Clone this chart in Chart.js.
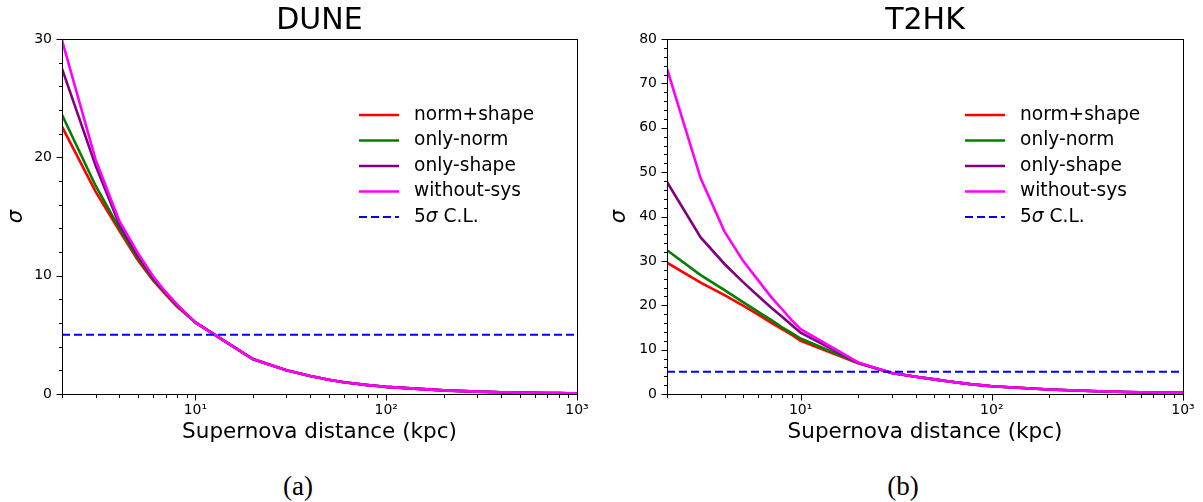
<!DOCTYPE html>
<html>
<head>
<meta charset="utf-8">
<script src="https://cdn.jsdelivr.net/npm/chart.js@4.4.1/dist/chart.umd.min.js"></script>
<style>
  html, body { margin: 0; padding: 0; background: #ffffff; }
  body { width: 1203px; height: 502px; position: relative; overflow: hidden; }
  .panel { position: absolute; top: 0; width: 600px; height: 460px; }
  .caption { position: absolute; top: 471px; font-family: "Liberation Serif", "DejaVu Serif", serif; font-size: 27px; color: #000; transform: translateX(-50%); }
</style>
</head>
<body>
<div class="panel" style="left:0px"><canvas id="dune" width="600" height="460"></canvas></div>
<div class="panel" style="left:603px"><canvas id="t2hk" width="600" height="460"></canvas></div>
<div class="caption" style="left:298px">(a)</div>
<div class="caption" style="left:903px">(b)</div>
<script>
// ---------------- data ----------------
const xDistance = [2, 3, 4, 5, 6, 7, 8, 9, 10, 20, 30, 40, 50, 60, 70, 80, 90, 100, 200, 300, 400, 500, 600, 700, 800, 900, 1000];

const duneNormShape  = [22.6, 17.1, 13.8, 11.3, 9.6, 8.4, 7.4, 6.7, 6.05, 2.95, 2.0, 1.52, 1.2, 1.0, 0.86, 0.75, 0.67, 0.6, 0.31, 0.2, 0.15, 0.12, 0.1, 0.086, 0.075, 0.067, 0.06];
const duneOnlyNorm   = [23.6, 17.6, 14.0, 11.5, 9.7, 8.5, 7.5, 6.7, 6.05, 2.95, 2.0, 1.52, 1.2, 1.0, 0.86, 0.75, 0.67, 0.6, 0.31, 0.2, 0.15, 0.12, 0.1, 0.086, 0.075, 0.067, 0.06];
const duneOnlyShape  = [27.5, 19.3, 14.3, 11.7, 9.8, 8.55, 7.55, 6.75, 6.05, 2.95, 2.0, 1.52, 1.2, 1.0, 0.86, 0.75, 0.67, 0.6, 0.31, 0.2, 0.15, 0.12, 0.1, 0.086, 0.075, 0.067, 0.06];
const duneWithoutSys = [29.9, 19.8, 14.6, 11.9, 9.95, 8.6, 7.6, 6.75, 6.05, 2.95, 2.0, 1.52, 1.2, 1.0, 0.86, 0.75, 0.67, 0.6, 0.31, 0.2, 0.15, 0.12, 0.1, 0.086, 0.075, 0.067, 0.06];

const t2hkNormShape  = [29.6, 25.1, 22.3, 19.9, 17.9, 16.1, 14.6, 13.3, 12.0, 6.9, 4.75, 3.9, 3.3, 2.8, 2.45, 2.15, 1.95, 1.75, 1.0, 0.72, 0.56, 0.46, 0.39, 0.34, 0.31, 0.28, 0.26];
const t2hkOnlyNorm   = [32.4, 26.8, 23.4, 20.7, 18.5, 16.7, 15.0, 13.7, 12.5, 7.0, 4.75, 3.9, 3.3, 2.8, 2.45, 2.15, 1.95, 1.75, 1.0, 0.72, 0.56, 0.46, 0.39, 0.34, 0.31, 0.28, 0.26];
const t2hkOnlyShape  = [47.8, 35.3, 29.3, 25.2, 22.1, 19.5, 17.4, 15.5, 13.8, 7.05, 4.75, 3.9, 3.3, 2.8, 2.45, 2.15, 1.95, 1.75, 1.0, 0.72, 0.56, 0.46, 0.39, 0.34, 0.31, 0.28, 0.26];
const t2hkWithoutSys = [73.3, 48.6, 36.6, 30.0, 25.6, 21.9, 19.1, 16.6, 14.6, 7.1, 4.75, 3.9, 3.3, 2.8, 2.45, 2.15, 1.95, 1.75, 1.0, 0.72, 0.56, 0.46, 0.39, 0.34, 0.31, 0.28, 0.26];

const clX = [2, 1000];
const clLevel = [5, 5];

const seriesLabels = ['norm+shape', 'only-norm', 'only-shape', 'without-sys', '5σ C.L.'];
const seriesColors = ['#ff0000', '#008000', '#800080', '#ff00ff', '#0000ff'];

const xMajorTicks = [10, 100, 1000];
const xTickLabels = ['10¹', '10²', '10³'];
const xMinorTicks = [2, 3, 4, 5, 6, 7, 8, 9, 20, 30, 40, 50, 60, 70, 80, 90, 200, 300, 400, 500, 600, 700, 800, 900];

const duneYMajor = [0, 10, 20, 30];
const duneYMinor = [2, 4, 6, 8, 12, 14, 16, 18, 22, 24, 26, 28];
const t2hkYMajor = [0, 10, 20, 30, 40, 50, 60, 70, 80];
const t2hkYMinor = [2, 4, 6, 8, 12, 14, 16, 18, 22, 24, 26, 28, 32, 34, 36, 38, 42, 44, 46, 48, 52, 54, 56, 58, 62, 64, 66, 68, 72, 74, 76, 78];

const FONT = "'DejaVu Sans', 'Liberation Sans', sans-serif";
Chart.defaults.font.family = FONT;
Chart.defaults.color = '#000';

// ---------------- plugins ----------------
const frameTicks = {
  id: 'frameTicks',
  afterDatasetsDraw(chart, args, opts) {
    const {ctx, chartArea: a} = chart;
    const xs = chart.scales.x, ys = chart.scales.y;
    ctx.save();
    ctx.strokeStyle = '#000';
    ctx.lineWidth = 1;
    ctx.strokeRect(Math.round(a.left) + 0.5, Math.round(a.top) + 0.5, Math.round(a.right - a.left), Math.round(a.bottom - a.top));
    const bottom = Math.round(a.bottom) + 0.5, left = Math.round(a.left) + 0.5;
    ctx.beginPath();
    opts.xMajor.forEach(v => { const p = Math.round(xs.getPixelForValue(v)) + 0.5; ctx.moveTo(p, bottom); ctx.lineTo(p, bottom + 6); });
    opts.xMinor.forEach(v => { const p = Math.round(xs.getPixelForValue(v)) + 0.5; ctx.moveTo(p, bottom); ctx.lineTo(p, bottom + 3.5); });
    opts.yMajor.forEach(v => { const p = Math.round(ys.getPixelForValue(v)) + 0.5; ctx.moveTo(left, p); ctx.lineTo(left - 6, p); });
    opts.yMinor.forEach(v => { const p = Math.round(ys.getPixelForValue(v)) + 0.5; ctx.moveTo(left, p); ctx.lineTo(left - 3.5, p); });
    ctx.stroke();
    ctx.restore();
  }
};

const insideLegend = {
  id: 'insideLegend',
  afterDraw(chart) {
    const {ctx, chartArea: a} = chart;
    const x0 = a.right - 218, lineLen = 40, textX = x0 + 55;
    const y0 = a.top + 76, step = 25.5;
    ctx.save();
    chart.data.datasets.forEach((ds, i) => {
      const y = y0 + i * step;
      ctx.strokeStyle = ds.borderColor;
      ctx.lineWidth = ds.borderWidth;
      ctx.setLineDash(ds.borderDash || []);
      ctx.beginPath(); ctx.moveTo(x0, y); ctx.lineTo(x0 + lineLen, y); ctx.stroke();
      ctx.setLineDash([]);
      ctx.fillStyle = '#000';
      ctx.textBaseline = 'middle';
      ctx.textAlign = 'left';
      const label = ds.label;
      const k = label.indexOf('σ');
      const fs = '18.6px ';
      if (k < 0) {
        ctx.font = fs + FONT;
        ctx.fillText(label, textX, y);
      } else {
        let tx = textX;
        const parts = [[label.slice(0, k), ''], ['σ', 'italic '], [label.slice(k + 1), '']];
        parts.forEach(([t, st]) => {
          ctx.font = st + fs + FONT;
          ctx.fillText(t, tx, y);
          tx += ctx.measureText(t).width;
        });
      }
    });
    ctx.restore();
  }
};

// ---------------- charts ----------------
function makeChart(id, title, series, yMax, yMajor, yMinor, yWidth, padRight) {
  const datasets = series.map((vals, i) => ({
    label: seriesLabels[i],
    data: xDistance.map((x, j) => ({x: x, y: vals[j]})),
    borderColor: seriesColors[i],
    backgroundColor: seriesColors[i],
    borderWidth: 2.6,
    pointRadius: 0,
    tension: 0,
    fill: false,
    order: 5 - i
  }));
  datasets.push({
    label: seriesLabels[4],
    data: clX.map((x, j) => ({x: x, y: clLevel[j]})),
    borderColor: seriesColors[4],
    backgroundColor: seriesColors[4],
    borderWidth: 2,
    borderDash: [8, 4],
    pointRadius: 0,
    fill: false,
    order: 0
  });
  return new Chart(document.getElementById(id), {
    type: 'line',
    data: {datasets},
    plugins: [frameTicks, insideLegend],
    options: {
      responsive: false,
      animation: false,
      devicePixelRatio: 1,
      layout: {padding: {left: 0, right: padRight, top: 0, bottom: 0}},
      plugins: {
        legend: {display: false},
        tooltip: {enabled: false},
        title: {display: true, text: title, fullSize: false, color: '#000',
                font: {size: 30, weight: 'normal', family: FONT}, padding: {top: 3, bottom: 0}},
        frameTicks: {xMajor: xMajorTicks, xMinor: xMinorTicks, yMajor: yMajor, yMinor: yMinor}
      },
      scales: {
        x: {
          type: 'logarithmic', min: 2, max: 1000, bounds: 'data',
          border: {display: false},
          grid: {display: false, drawTicks: false},
          afterBuildTicks: s => { s.ticks = xMajorTicks.map(v => ({value: v})); },
          afterFit: s => { s.height = 66; },
          ticks: {autoSkip: false, maxRotation: 0, padding: 8, color: '#000',
                  font: {size: 14, family: FONT},
                  callback: v => { const k = xMajorTicks.indexOf(v); return k >= 0 ? xTickLabels[k] : ''; }},
          title: {display: true, text: 'Supernova distance (kpc)', color: '#000',
                  font: {size: 21.5, family: FONT}, padding: {top: 0, bottom: 14.5}}
        },
        y: {
          type: 'linear', min: 0, max: yMax,
          border: {display: false},
          grid: {display: false, drawTicks: false},
          afterBuildTicks: s => { s.ticks = yMajor.map(v => ({value: v})); },
          afterFit: s => { s.width = yWidth; },
          ticks: {padding: 10, color: '#000', font: {size: 14, family: FONT}},
          title: {display: true, text: 'σ', color: '#000',
                  font: {size: 21, style: 'italic', family: FONT}, padding: {top: 4, bottom: 0}}
        }
      }
    }
  });
}

makeChart('dune', 'DUNE', [duneNormShape, duneOnlyNorm, duneOnlyShape, duneWithoutSys], 30, duneYMajor, duneYMinor, 62, 23);
makeChart('t2hk', 'T2HK', [t2hkNormShape, t2hkOnlyNorm, t2hkOnlyShape, t2hkWithoutSys], 80, t2hkYMajor, t2hkYMinor, 64, 20);
</script>
</body>
</html>
